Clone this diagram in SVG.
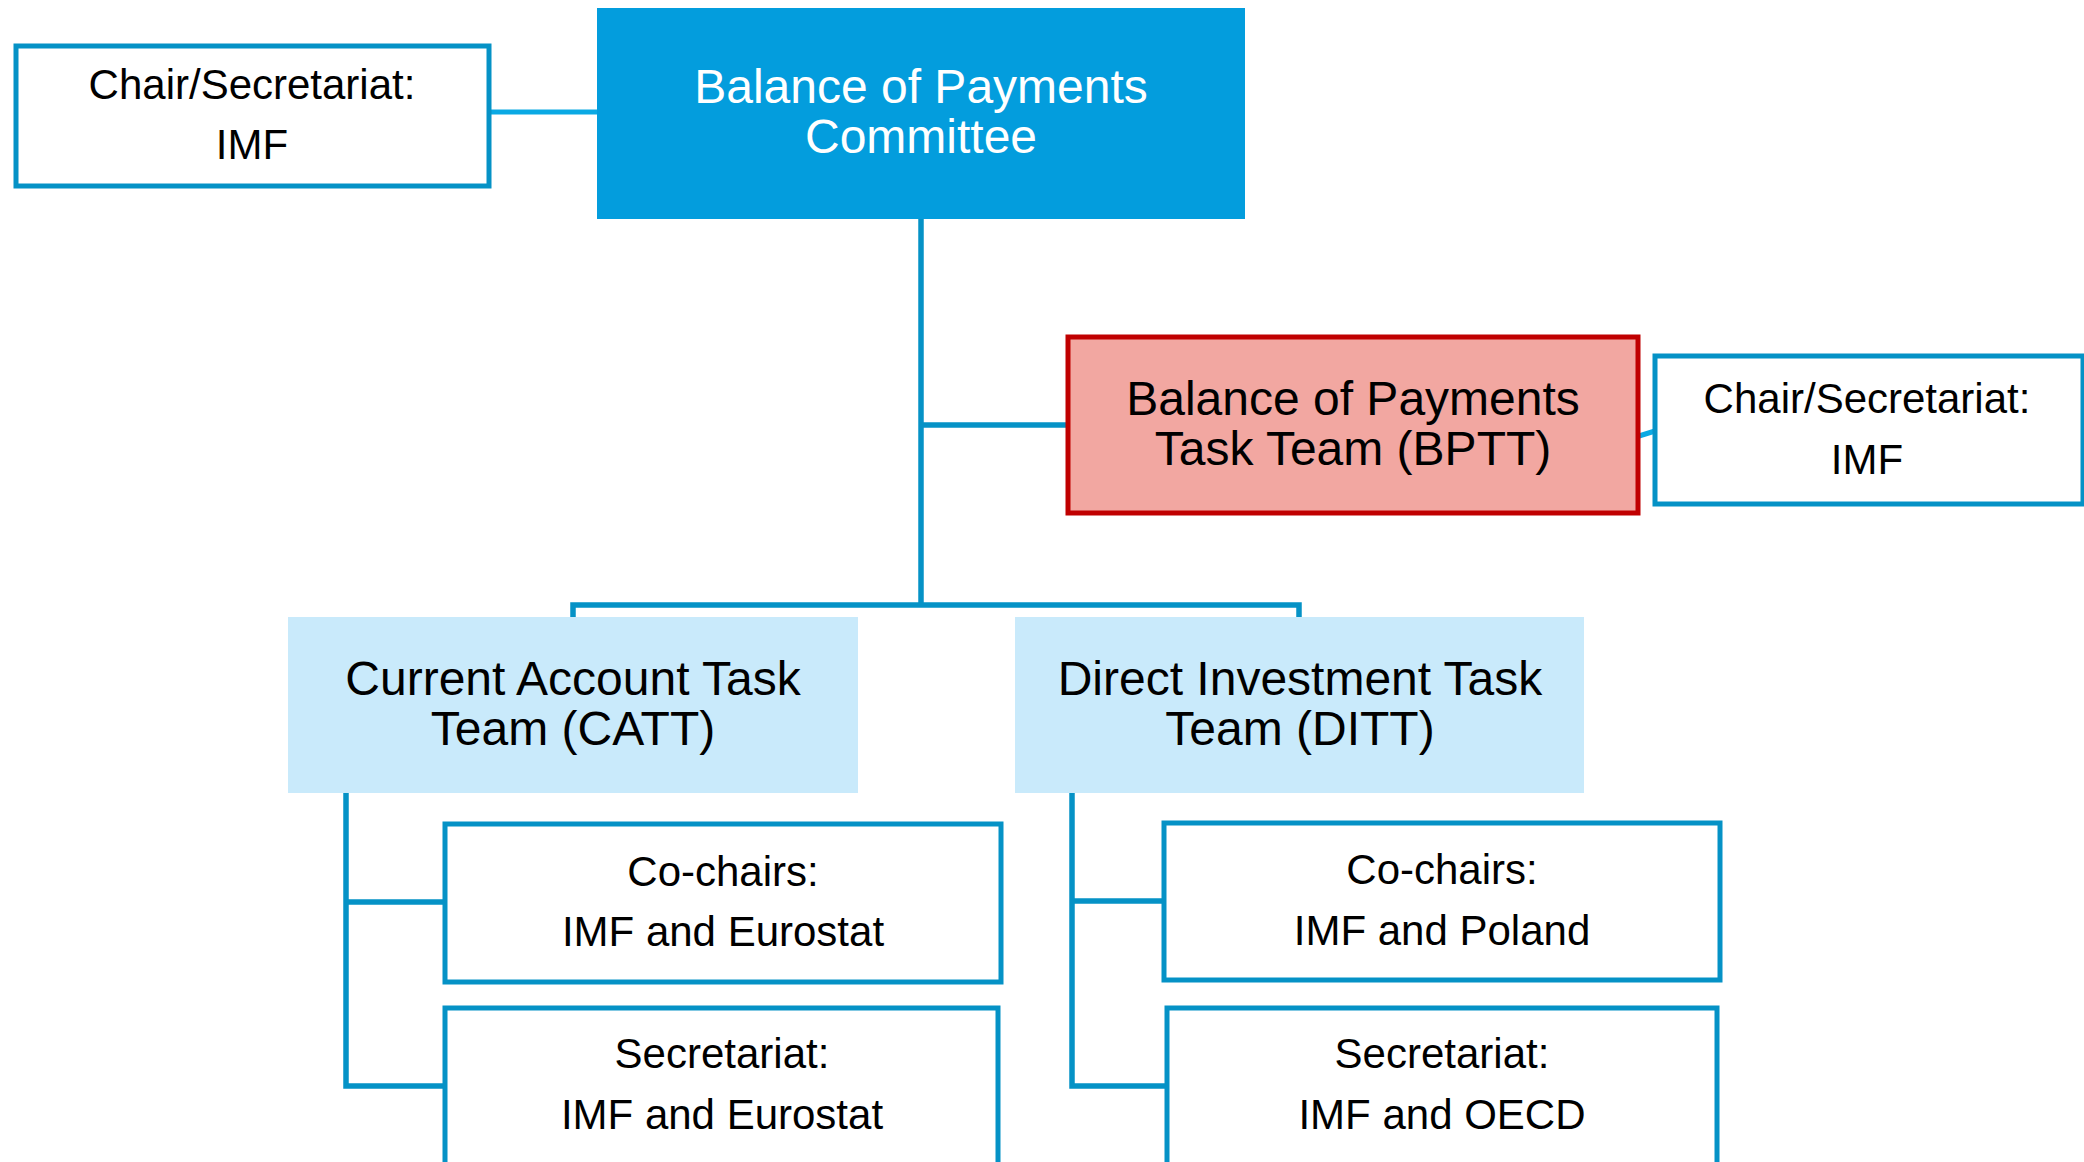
<svg xmlns="http://www.w3.org/2000/svg" width="2084" height="1162" viewBox="0 0 2084 1162">
<style>
text{font-family:"Liberation Sans",Arial,sans-serif;text-anchor:middle}
.t48{font-size:48px;fill:#000}
.tw{font-size:48px;fill:#fff}
.t42{font-size:42px;fill:#000}
.ob{fill:#fff;stroke:#0592c6;stroke-width:5}
.lt{fill:#c9eafb}
.ln{fill:none;stroke:#0592c6;stroke-width:5.5}
</style>
<rect width="2084" height="1162" fill="#fff"/>
<g id="connectors">
<line x1="489" y1="112" x2="597" y2="112" stroke="#0aa9e4" stroke-width="5"/>
<path class="ln" d="M921 219 V605"/>
<path class="ln" d="M921 425 H1068"/>
<path class="ln" d="M573 617 V605 H1299 V617"/>
<line x1="1639" y1="436" x2="1655" y2="431" stroke="#0aa9e4" stroke-width="5"/>
<path class="ln" d="M346 793 V1086 H445 M346 902 H445"/>
<path class="ln" d="M1072 793 V1086 H1166 M1072 901 H1164"/>
</g>
<g id="chair1">
<rect class="ob" x="16" y="46" width="473" height="140"/>
<text class="t42" x="252" y="99">Chair/Secretariat:</text>
<text class="t42" x="252" y="159">IMF</text>
</g>
<g id="committee">
<rect x="597" y="8" width="648" height="211" fill="#039ddd"/>
<text class="tw" x="921" y="103">Balance of Payments</text>
<text class="tw" x="921" y="153">Committee</text>
</g>
<g id="bptt">
<rect x="1068" y="337" width="570" height="176" fill="#f2a7a1" stroke="#c00000" stroke-width="5"/>
<text class="t48" x="1353" y="415">Balance of Payments</text>
<text class="t48" x="1353" y="465">Task Team (BPTT)</text>
</g>
<g id="chair2">
<rect class="ob" x="1655" y="356" width="428" height="148"/>
<text class="t42" x="1867" y="413">Chair/Secretariat:</text>
<text class="t42" x="1867" y="474">IMF</text>
</g>
<g id="catt">
<rect class="lt" x="288" y="617" width="570" height="176"/>
<text class="t48" x="573" y="695">Current Account Task</text>
<text class="t48" x="573" y="745">Team (CATT)</text>
</g>
<g id="ditt">
<rect class="lt" x="1015" y="617" width="569" height="176"/>
<text class="t48" x="1300" y="695">Direct Investment Task</text>
<text class="t48" x="1300" y="745">Team (DITT)</text>
</g>
<g id="catt-cochairs">
<rect class="ob" x="445" y="824" width="556" height="158"/>
<text class="t42" x="723" y="886">Co-chairs:</text>
<text class="t42" x="723" y="946">IMF and Eurostat</text>
</g>
<g id="catt-secretariat">
<rect class="ob" x="445" y="1008" width="553" height="180"/>
<text class="t42" x="722" y="1068">Secretariat:</text>
<text class="t42" x="722" y="1129">IMF and Eurostat</text>
</g>
<g id="ditt-cochairs">
<rect class="ob" x="1164" y="823" width="556" height="157"/>
<text class="t42" x="1442" y="884">Co-chairs:</text>
<text class="t42" x="1442" y="945">IMF and Poland</text>
</g>
<g id="ditt-secretariat">
<rect class="ob" x="1167" y="1008" width="550" height="180"/>
<text class="t42" x="1442" y="1068">Secretariat:</text>
<text class="t42" x="1442" y="1129">IMF and OECD</text>
</g>
</svg>
